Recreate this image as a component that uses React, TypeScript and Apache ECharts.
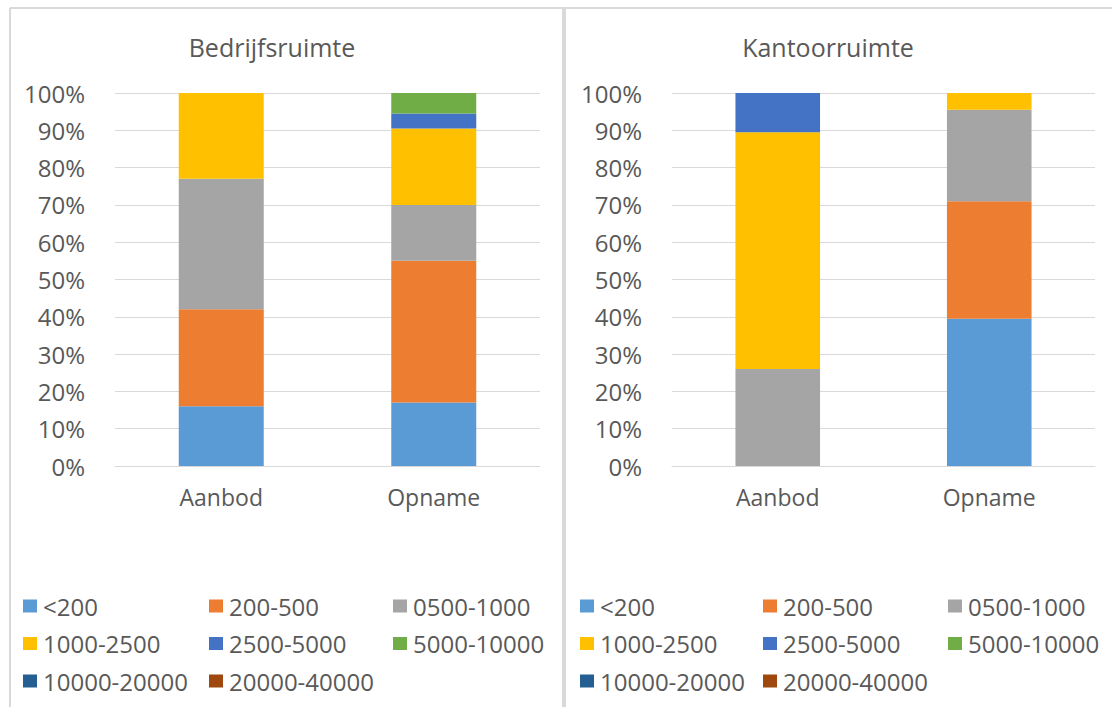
import { useEffect, useRef } from "react";
import * as echarts from "echarts";

// Size classes (m²) and their colours
const sizeClasses = [
  "<200",
  "200-500",
  "0500-1000",
  "1000-2500",
  "2500-5000",
  "5000-10000",
  "10000-20000",
  "20000-40000",
];
const classColors = [
  "#5B9BD5",
  "#ED7D31",
  "#A5A5A5",
  "#FFC000",
  "#4472C4",
  "#70AD47",
  "#255E91",
  "#9E480E",
];

const categories = ["Aanbod", "Opname"];

// Share (%) per size class, in the order of sizeClasses
const bedrijfAanbod = [16, 26, 35, 23, 0, 0, 0, 0];
const bedrijfOpname = [17, 38, 15, 20.5, 4, 5.5, 0, 0];
const kantoorAanbod = [0, 0, 26, 63.5, 10.5, 0, 0, 0];
const kantoorOpname = [39.5, 31.5, 24.5, 4.5, 0, 0, 0, 0];

const panelTitles = ["Bedrijfsruimte", "Kantoorruimte"];
const yTicks = { min: 0, max: 100, interval: 10 };

const FONT = "'Open Sans', sans-serif";
const TEXT = "#595959";
const LINE = "#D9D9D9";

export default function App() {
  const ref = useRef<HTMLDivElement>(null);

  useEffect(() => {
    if (!ref.current) return;
    const chart = echarts.init(ref.current, undefined, { renderer: "svg" });

    const grids = [
      { left: 115, top: 93, width: 425, height: 373 },
      { left: 672, top: 93, width: 423, height: 373 },
    ];
    const titleX = [272, 828];
    const legendCols = [
      [23, 209, 393],
      [580, 763, 948],
    ];
    const legendColumns = [
      [0, 3, 6],
      [1, 4, 7],
      [2, 5],
    ];

    const panels = [
      [bedrijfAanbod, bedrijfOpname],
      [kantoorAanbod, kantoorOpname],
    ];

    const series: any[] = [];
    panels.forEach(([aanbod, opname], p) => {
      sizeClasses.forEach((name, i) => {
        series.push({
          type: "bar",
          name,
          stack: "panel" + p,
          xAxisIndex: p,
          yAxisIndex: p,
          barWidth: "40%",
          itemStyle: { color: classColors[i] },
          data: [aanbod[i], opname[i]],
        });
      });
    });

    const legends: any[] = [];
    legendCols.forEach((cols) => {
      cols.forEach((x, c) => {
        legends.push({
          orient: "vertical",
          left: x,
          top: 594,
          padding: 0,
          icon: "rect",
          itemWidth: 14,
          itemHeight: 13,
          itemGap: 13.5,
          selectedMode: false,
          textStyle: {
            fontFamily: FONT,
            fontSize: 24,
            lineHeight: 24,
            color: TEXT,
            padding: [0, 0, 0, 1],
          },
          data: legendColumns[c].map((i) => sizeClasses[i]),
        });
      });
    });

    chart.setOption({
      animation: false,
      backgroundColor: "#FFFFFF",
      grid: grids.map((g) => ({ ...g, containLabel: false })),
      xAxis: grids.map((_, i) => ({
        type: "category",
        gridIndex: i,
        data: categories,
        axisLine: { lineStyle: { color: LINE, width: 1 } },
        axisTick: { show: false },
        axisLabel: {
          margin: 19,
          color: TEXT,
          fontFamily: FONT,
          fontSize: 23,
        },
      })),
      yAxis: grids.map((_, i) => ({
        type: "value",
        gridIndex: i,
        min: yTicks.min,
        max: yTicks.max,
        interval: yTicks.interval,
        axisLine: { show: false },
        axisTick: { show: false },
        splitLine: { lineStyle: { color: LINE, width: 1 } },
        axisLabel: {
          margin: 30,
          color: TEXT,
          fontFamily: FONT,
          fontSize: 24,
          formatter: "{value}%",
        },
      })),
      legend: legends,
      series,
      graphic: [
        // panel frames
        {
          type: "line",
          shape: { x1: 10, y1: 8, x2: 1112, y2: 8 },
          style: { stroke: LINE, lineWidth: 2 },
          silent: true,
        },
        {
          type: "line",
          shape: { x1: 10, y1: 8, x2: 10, y2: 707 },
          style: { stroke: LINE, lineWidth: 2 },
          silent: true,
        },
        {
          type: "line",
          shape: { x1: 564, y1: 8, x2: 564, y2: 707 },
          style: { stroke: LINE, lineWidth: 4 },
          silent: true,
        },
        ...panelTitles.map((t, i) => ({
          type: "text",
          x: titleX[i],
          y: 47,
          style: {
            text: t,
            fontFamily: FONT,
            fontSize: 25,
            fill: TEXT,
            align: "center",
            verticalAlign: "middle",
          },
          silent: true,
        })),
      ],
    });

    return () => chart.dispose();
  }, []);

  return (
    <div
      ref={ref}
      style={{ position: "absolute", left: 0, top: 0, width: 1112, height: 707 }}
    />
  );
}
